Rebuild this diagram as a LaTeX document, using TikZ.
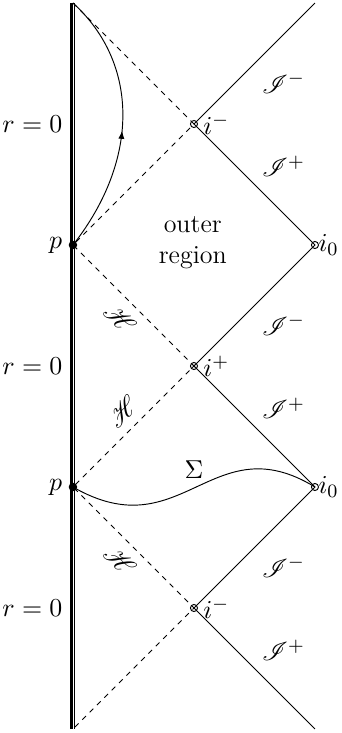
\documentclass[tikz,border=0pt]{standalone}
\DeclareMathAlphabet{\scrfont}{U}{rsfs}{m}{n}
\usetikzlibrary{arrows.meta, decorations.markings}

\begin{document}
\begin{tikzpicture}[x=1.8cm, y=1.8cm, font=\fontsize{11}{13}\selectfont,
    null/.style={dash pattern=on 2.2pt off 2.2pt, line width=0.4pt},
    scri/.style={line width=0.4pt},
    openpt/.style={circle, draw, line width=0.4pt, inner sep=0pt, minimum size=3pt},
    crosspt/.style={openpt, path picture={\draw[line width=0.3pt]
        (path picture bounding box.north west) -- (path picture bounding box.south east)
        (path picture bounding box.south west) -- (path picture bounding box.north east);}},
    dotpt/.style={circle, fill, inner sep=0pt, minimum size=3.6pt}]
  \useasboundingbox (-0.603,-2.033) rectangle (2.223,4.025);
  % corners of the diagram
  \coordinate (wtop) at (0,4);
  \coordinate (wbot) at (0,-2);
  \coordinate (p1) at (0,2);
  \coordinate (p2) at (0,0);
  \coordinate (iA) at (1,3);
  \coordinate (iB) at (1,1);
  \coordinate (iC) at (1,-1);
  \coordinate (oA) at (2,2);
  \coordinate (oB) at (2,0);
  \coordinate (sA) at (2,4);
  \coordinate (sB) at (2,-2);
  % the r=0 wall
  \draw[line width=1pt] ([xshift=-0.6pt]wtop) -- ([xshift=-0.6pt]wbot);
  \draw[line width=0.4pt] ([xshift=0.8pt]wtop) -- ([xshift=0.8pt]wbot);
  % horizons and null infinity
  \draw[null] (wtop) -- (iA) -- (p1) -- (iB) -- (p2) -- (iC) -- (wbot);
  \draw[scri] (sA) -- (iA) -- (oA) -- (iB) -- (oB) -- (iC) -- (sB);
  % curves
  \draw[line width=0.4pt, postaction={decorate},
        decoration={markings, mark=at position 0.47 with {\arrow{Latex[length=3.4pt,width=2.6pt]}}}]
    (p1) .. controls (0.55,2.7) and (0.55,3.5) .. (wtop);
  \draw[line width=0.4pt] (p2) .. controls (0.9,-0.52) and (1.15,0.52) .. (oB);
  % points
  \node[dotpt] (P1) at (p1) {};
  \node[dotpt] (P2) at (p2) {};
  \node[openpt] (IA) at (iA) {};
  \node[crosspt] (IB) at (iB) {};
  \node[openpt] (IC) at (iC) {};
  \node[openpt] (OA) at (oA) {};
  \node[openpt] (OB) at (oB) {};
  % labels
  \foreach \y/\n in {3/a,1/b,-1/c}
    \node[anchor=east, xshift=-1pt] (r\n) at (0,\y) {$r=0$};
  \node[anchor=east, xshift=-1pt] (pA) at (p1) {$p$};
  \node[anchor=east, xshift=-1pt] (pB) at (p2) {$p$};
  \node[anchor=west, xshift=0.5pt] (lA) at (iA) {$i^-$};
  \node[anchor=west, xshift=0.5pt] (lB) at (iB) {$i^+$};
  \node[anchor=west, xshift=0.5pt] (lC) at (iC) {$i^-$};
  \node[anchor=west, xshift=-2pt] (lOA) at (oA) {$i_0$};
  \node[anchor=west, xshift=-2pt] (lOB) at (oB) {$i_0$};
  \foreach \k/\n in {2/a,0/b,-2/c} {
    \node (Im\n) at (1.74,{1.34+\k}) {$\scrfont{I}^-$};
    \node (Ip\n) at (1.74,{0.65+\k}) {$\scrfont{I}^+$};
  }
  \node[rotate=-45] (Ha) at (0.39,1.39) {$\scrfont{H}$};
  \node[rotate=45] (Hb) at (0.41,0.62) {$\scrfont{H}$};
  \node[rotate=-45] (Hc) at (0.39,-0.61) {$\scrfont{H}$};
  \node (sig) at (1.0,0.14) {$\Sigma$};
  \node[align=center] (outer) at (0.99,2.02) {outer\\region};
\end{tikzpicture}
\end{document}
